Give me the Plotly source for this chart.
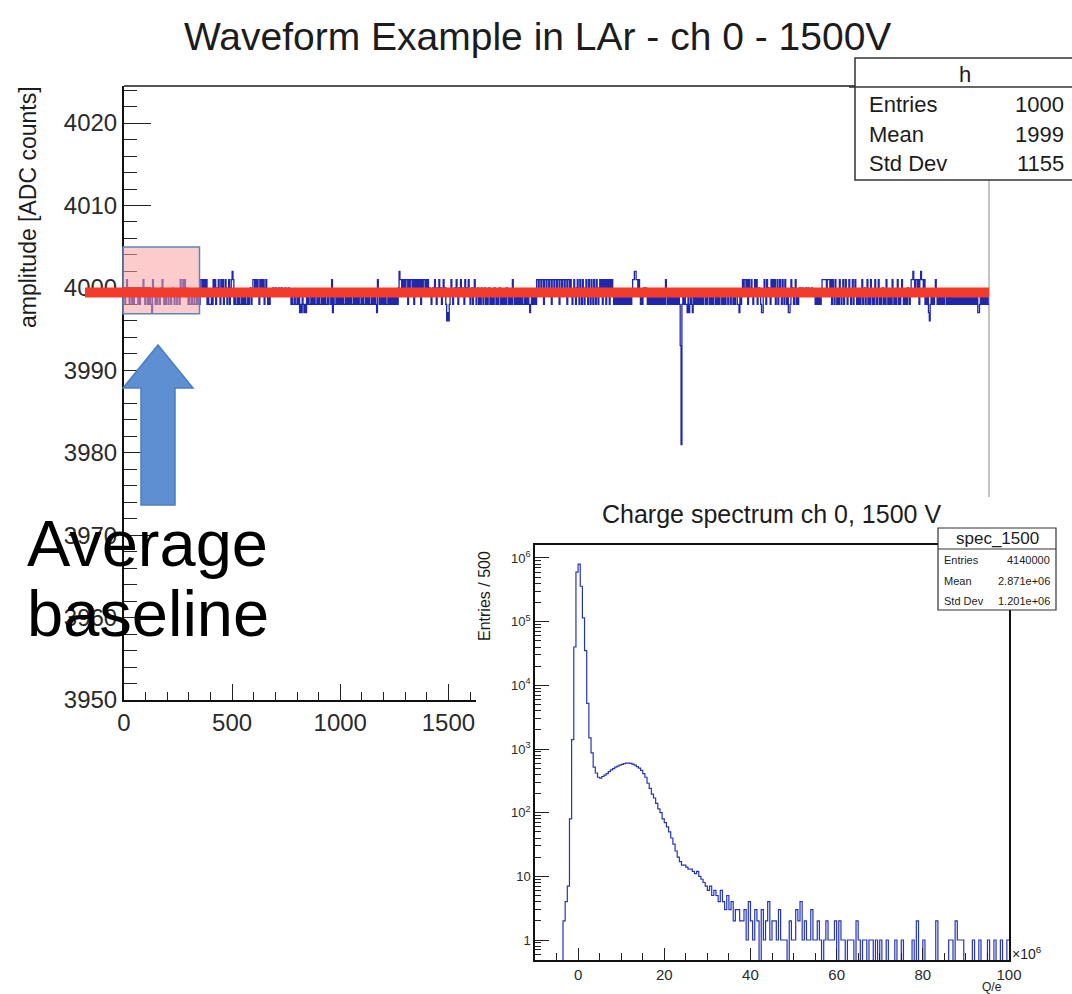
import numpy as np
import plotly.graph_objects as go

W, H = 1072, 994
FONT = "Liberation Sans, Arial, Helvetica, sans-serif"
INK = "#1c1c1c"


def fx(p):
    return p / W


def fy(p):
    return 1 - p / H


# ---------------- data ----------------
main_title = "Waveform Example in LAr - ch 0 - 1500V"
wave_sample_ns = 4
wave_adc = [
    # 0-200 ns
    3999,3998,3999,4001,4000,3999,3998,3999,3999,3998, 3999,3998,3999,3999,4000,3999,3998,3999,3998,3999,
    3999,4000,4001,3999,3998,3999,3999,3998,3999,3998, 3999,3998,3997,4001,4000,3999,3998,3999,3998,3999,
    3999,3998,4000,3999,4001,3999,3998,3999,3998,3999,
    # 200-400
    3999,3998,3999,3999,3998,3999,4000,3999,3998,3999, 3999,3998,3999,3999,3998,4001,3999,4000,4001,3999,
    4001,3999,4000,3999,3998,3999,3998,3998,3999,3998, 3998,3999,3998,3998,3999,3998,3999,3998,4001,4001,
    3999,4001,4000,4001,3999,4001,3998,3999,3998,3998,
    # 400-600
    3998,3999,3998,4001,3999,4001,3998,4000,3999,4001, 3999,3998,4001,3999,4001,3998,3999,4001,4000,3998,
    3999,4001,3998,4000,4001,4002,4001,3998,3999,3998, 3998,3999,3998,3999,3998,3998,3999,3998,3999,3998,
    3999,3998,3998,3999,3998,3999,4000,3998,3999,4001,
    # 600-800
    4001,3999,4001,4000,4001,3999,3998,4001,3999,4001, 3999,4001,3998,4000,4001,3999,3998,3999,3998,3999,
    3999,3999,4000,3999,3999,4000,3999,3999,3999,4000, 3999,3999,4000,3999,3999,3999,4000,3999,3999,3999,
    4000,3999,3999,3998,3999,3998,3998,3999,3998,3998,
    # 800-1000
    3999,3998,3999,3997,3998,3997,3999,3998,3997,3998, 3997,3999,3998,3999,3998,3998,3999,3998,3999,3998,
    3999,3998,3998,3999,3998,3999,3998,3998,3999,3998, 3999,3998,3999,3998,3998,3999,3998,3999,3999,3998,
    4001,3997,3999,3998,3998,3999,3998,3999,3998,3999,
    # 1000-1200
    3998,3999,3998,3999,3998,3998,3999,3998,3999,3998, 3999,3998,3999,3998,3998,3999,3998,3999,3998,3999,
    3998,3999,3998,3998,3999,3998,3999,3998,3998,3999, 3998,3999,3998,3999,3998,3998,3999,3998,3999,3998,
    3999,3998,3997,4001,3999,3998,3999,3998,3999,3998,
    # 1200-1400
    3999,3998,3999,3998,3998,3999,3998,3999,3998,3999, 3998,3999,3998,3999,3998,3999,3998,4000,4002,4001,
    4001,3999,4001,4000,4001,3999,4001,4001,3998,4001, 3999,4001,4001,3999,4001,3998,4001,3999,4001,4000,
    4001,3999,4001,3998,4001,3999,4001,4001,3999,4001,
    # 1400-1600
    3999,4001,3999,4000,3999,3998,3999,4000,3999,4001, 3999,3998,4000,3999,4001,3999,4000,3998,3999,4001,
    3999,4000,3998,3996,3997,3996,3998,3999,4001,3999, 3998,3999,4000,3999,4001,3999,3998,4000,3999,4001,
    3999,4000,3999,3998,4001,3999,4000,3999,4001,3999,
    # 1600-1800
    3998,3999,4000,3998,3999,4001,3999,3998,3999,4000, 3998,3999,3998,4000,3999,3998,3999,4000,3998,3999,
    3998,3999,4000,3998,3999,3998,3999,3998,4000,3999, 3998,3999,3998,3999,4000,3998,3999,3998,3999,3998,
    3999,3998,4000,3999,3998,3999,3998,3999,3998,4001,
    # 1800-2000
    3999,3998,3999,3998,3999,3998,3999,3998,3999,3998, 3999,3998,3998,3999,3998,3999,3998,3999,3998,3997,
    3998,3999,3998,3999,3998,3999,3998,4001,4001,3999, 4001,4001,3999,4001,4001,3998,4001,4001,3999,4001,
    4001,3999,4001,4001,3998,4001,4001,3999,4001,4001,
    # 2000-2200
    3999,4001,4001,3998,4001,4001,3999,4001,4001,3999, 4001,4001,3998,4001,4001,3999,4001,3999,3998,3999,
    4001,3999,3998,4000,4001,3999,3998,4001,3999,3998, 4001,3999,3998,4000,4001,3999,3998,4001,3999,3998,
    4001,3999,3998,4001,3999,3998,4001,3999,3998,4000,
    # 2200-2400
    4001,3999,4001,3998,4001,3999,4001,3998,4001,3999, 4001,3998,4001,3999,4001,3999,3998,3999,3998,3999,
    3998,3999,3998,3999,3998,3999,3998,3999,3998,3999, 3998,3999,3998,3999,3998,3999,3998,3999,4001,4001,
    4002,4002,4001,4001,3999,4001,3999,3998,3999,3998,
    # 2400-2600
    3999,4000,3999,4000,3999,3998,3999,3998,3999,3998, 3999,3998,3999,3998,3999,3998,3999,3998,3999,3998,
    3999,3998,3999,3998,3999,3998,4001,3999,3998,3999, 3998,3999,3998,3999,3998,3999,3998,3999,3998,3999,
    3998,3999,3998,3993,3981,3998,3999,3998,3999,3998,
    # 2600-2800
    3998,3997,3999,3997,3998,3999,3998,3997,3999,3998, 3999,3998,3999,3998,3999,3998,3999,3998,3999,3998,
    3999,3999,3998,3999,3998,3999,3999,3998,3999,3998, 3999,3998,3999,3999,3998,3999,3998,3999,3998,3999,
    3999,3998,3999,3998,3999,3998,3999,3999,3998,3999,
    # 2800-3000
    3999,3998,3999,3999,3998,3999,3998,3999,3999,3998, 3998,3997,3999,3998,3999,4001,3999,4001,4001,3999,
    4001,3998,4001,3999,4000,4001,3999,3998,3999,4001, 3999,4001,3998,3999,4000,3999,3998,3997,3997,3999,
    4001,3999,3998,4001,3999,4000,3999,3998,4001,3999,
    # 3000-3200
    4001,3999,4001,3998,3999,4001,3998,4000,4001,3999, 3998,4001,3999,3998,4001,3999,3998,3999,3997,3997,
    3998,4001,3999,4000,3998,3999,4001,3998,3999,3998, 3999,4000,3999,3999,4000,3999,3999,3999,4000,3999,
    3999,4000,3999,3999,3999,4000,3999,3999,3999,3998,
    # 3200-3400
    3999,3998,3999,3998,3999,3998,3999,4001,4001,4001, 4001,4001,3999,4001,4001,4001,3999,4001,3998,4001,
    3999,3998,4001,3999,3998,3999,3998,4001,3999,3998, 3999,4001,3998,3999,4001,3999,3998,3999,4001,3999,
    3998,3999,4001,3998,3999,4001,3999,3998,3999,3998,
    # 3400-3600
    3999,3998,3999,4001,3998,3999,4000,3998,3999,4001, 3998,3999,3998,4001,3999,3998,3999,3998,4001,3999,
    3998,3999,4001,3998,3999,3998,3999,4000,3998,3999, 3998,4001,3999,3998,3999,3998,3999,3998,4001,3999,
    3998,3999,3998,3999,4001,3998,3999,3998,3999,4001,
    # 3600-3800
    3999,3998,3999,3998,3999,3998,4000,3999,3998,3999, 4001,4001,4002,4001,3999,4001,4001,3999,4001,3998,
    4001,4002,4001,4001,3999,4001,3998,3999,3998,3999, 3997,3996,3998,3999,3998,3999,3998,3999,4001,3999,
    3998,3999,3998,3999,3998,3999,3998,3999,3998,3999,
    # 3800-4000
    3999,3998,3999,3998,3999,3998,3999,3998,3999,3998, 3999,3998,3999,3998,3999,3998,3999,3998,3999,3998,
    3999,3998,3999,3998,3999,3998,3999,3998,3999,3998, 3999,3998,3999,3998,3999,3998,3999,3997,3997,3998,
    3999,3998,3999,3998,3999,3998,3999,3998,3999,3998,
]
wave_stats_labels = ["Entries", "Mean", "Std Dev"]
wave_stats_values = ["1000", "1999", "1155"]
wave_y_ticks = [3950, 3960, 3970, 3980, 3990, 4000, 4010, 4020]
average_baseline_adc = 3999.45

spec_title = "Charge spectrum ch 0, 1500 V"
spec_first_edge = -10.0
spec_bin_width = 0.5
spec_counts = [
    # -10 .. -4
    0, 0, 0, 0, 0, 0, 0, 0, 0, 0, 0, 0,
    # -4 .. 1
    0, 2, 4, 7, 80, 1400, 40000, 600000, 800000, 360000,
    # 1 .. 6
    115000, 35000, 5200, 1500, 870, 520, 420, 360, 350, 370,
    # 6 .. 11
    390, 410, 440, 470, 490, 520, 540, 560, 575, 590,
    # 11 .. 16
    600, 600, 595, 580, 560, 530, 500, 460, 410, 360,
    # 16 .. 21
    290, 240, 195, 170, 140, 115, 100, 80, 70, 60,
    # 21 .. 26
    50, 40, 32, 25, 20, 17, 15, 15, 14, 13,
    # 26 .. 31
    13, 12, 11, 12, 10, 9, 8, 7, 6, 7,
    # 31 .. 36
    5, 6, 5, 4, 6, 4, 3, 5, 3, 4,
    # 36 .. 38
    2, 3, 3, 2,
    # 38 .. 100
    2, 3, 1, 4, 2, 1, 3, 2, 0, 3,
    1, 2, 4, 1, 2, 2, 1, 3, 1, 1,
    1, 0, 2, 1, 1, 3, 2, 4, 1, 2,
    1, 1, 3, 1, 1, 2, 1, 0, 1, 2,
    1, 1, 1, 2, 0, 2, 1, 1, 0, 1,
    1, 1, 0, 2, 1, 0, 1, 1, 0, 1,
    1, 0, 1, 0, 1, 0, 0, 1, 0, 0,
    0, 1, 0, 0, 1, 0, 0, 0, 0, 1,
    0, 2, 0, 0, 1, 0, 0, 0, 0, 0,
    2, 0, 0, 0, 0, 0, 1, 1, 0, 2,
    1, 1, 1, 0, 0, 0, 0, 1, 0, 0,
    1, 0, 0, 0, 1, 0, 0, 1, 0, 0,
    1, 0, 0, 1,
]
spec_x_ticks = [0, 20, 40, 60, 80, 100]
spec_y_ticks = [1, 10, 100, 1000, 10000, 100000, 1000000]
spec_y_ticktext = ["1", "10", "10<sup>2</sup>", "10<sup>3</sup>", "10<sup>4</sup>",
                   "10<sup>5</sup>", "10<sup>6</sup>"]
spec_stats_labels = ["Entries", "Mean", "Std Dev"]
spec_stats_values = ["4140000", "2.871e+06", "1.201e+06"]

# ---------------- figure ----------------
fig = go.Figure()

wave_edges = np.arange(len(wave_adc) + 1) * wave_sample_ns
wave_step = list(wave_adc) + [wave_adc[-1]]
fig.add_trace(go.Scatter(
    x=wave_edges, y=wave_step, mode="lines",
    line=dict(shape="hv", color="#1f28ad", width=1.3),
    xaxis="x", yaxis="y", hoverinfo="skip"))

# white panel on which the inset sits (covers the main frame underneath)
fig.add_trace(go.Scatter(
    x=[0, 1, 1, 0, 0], y=[0, 0, 1, 1, 0], mode="lines", fill="toself",
    fillcolor="white", line=dict(width=0, color="white"),
    xaxis="x2", yaxis="y2", hoverinfo="skip"))

spec_edges = spec_first_edge + spec_bin_width * np.arange(len(spec_counts) + 1)
spec_disp = [c if c > 0 else 0.05 for c in spec_counts]
spec_disp = spec_disp + [spec_disp[-1]]
fig.add_trace(go.Scatter(
    x=spec_edges, y=spec_disp, mode="lines",
    line=dict(shape="hv", color="#2535ba", width=1.2),
    xaxis="x3", yaxis="y3", hoverinfo="skip"))

axis_common = dict(showgrid=False, zeroline=False, showline=True, automargin=False,
                   linecolor="#111", ticks="inside", tickcolor="#222")

spec_minor = [m * 10 ** e for e in range(-1, 7) for m in range(2, 10)]

fig.update_layout(
    width=W, height=H, margin=dict(l=0, r=0, t=0, b=0, pad=0), autosize=False,
    paper_bgcolor="white", plot_bgcolor="rgba(0,0,0,0)",
    showlegend=False, hovermode=False,
    font=dict(family=FONT, color=INK),
    xaxis=dict(domain=[fx(124), fx(989)], range=[0, 4000], anchor="y",
               tick0=0, dtick=500, ticklen=16, tickwidth=1.4, linewidth=2,
               tickfont=dict(size=24, color="#2a2a2a"),
               minor=dict(ticks="inside", dtick=100, ticklen=8, tickcolor="#222", showgrid=False),
               **axis_common),
    yaxis=dict(domain=[fy(700), fy(86)], range=[3950, 4024.5], anchor="x",
               tickvals=wave_y_ticks, tickformat="d", ticklen=27, tickwidth=1.4, linewidth=2,
               tickfont=dict(size=24, color="#2a2a2a"),
               minor=dict(ticks="inside", dtick=2, ticklen=13, tickcolor="#222", showgrid=False),
               **axis_common),
    xaxis2=dict(domain=[fx(476), 1], range=[0, 1], anchor="y2", visible=False,
                fixedrange=True, automargin=False),
    yaxis2=dict(domain=[0, fy(497)], range=[0, 1], anchor="x2", visible=False,
                fixedrange=True, automargin=False),
    xaxis3=dict(domain=[fx(535), fx(1009)], range=[-10, 100], anchor="y3",
                tickvals=spec_x_ticks, ticklen=12, tickwidth=1.2, linewidth=1.5, mirror=True,
                tickfont=dict(size=15, color="#2a2a2a"),
                minor=dict(ticks="inside", dtick=5, ticklen=7, tickcolor="#222", showgrid=False),
                **axis_common),
    yaxis3=dict(domain=[fy(960), fy(545)], type="log", range=[-0.314, 6.204], anchor="x3",
                tickvals=spec_y_ticks, ticktext=spec_y_ticktext, ticklen=14, tickwidth=1.2,
                linewidth=1.5, mirror=True,
                tickfont=dict(size=13, color="#2a2a2a"),
                minor=dict(ticks="inside", tickvals=spec_minor, ticklen=6, tickcolor="#222",
                           showgrid=False),
                **axis_common),
)

shapes = []
# main frame top / right (drawn under everything so the inset panel hides them)
shapes.append(dict(type="line", xref="paper", yref="paper", x0=fx(124), x1=fx(989),
                   y0=fy(86), y1=fy(86), line=dict(color="#555", width=2), layer="below"))
shapes.append(dict(type="line", xref="paper", yref="paper", x0=fx(989), x1=fx(989),
                   y0=fy(86), y1=fy(700), line=dict(color="#b0b0b0", width=1.5), layer="below"))
# highlighted baseline window
shapes.append(dict(type="rect", xref="paper", yref="y", x0=fx(123), x1=fx(199.5),
                   y0=3996.86, y1=4004.96, fillcolor="rgba(250,160,160,0.55)",
                   line=dict(color="#5a86c0", width=1.5), layer="above"))
# average baseline line
shapes.append(dict(type="line", xref="paper", yref="y", x0=fx(85), x1=fx(989),
                   y0=average_baseline_adc, y1=average_baseline_adc,
                   line=dict(color="#f23b2b", width=10), layer="above"))
# arrow
arrow_pts = [(158, 345), (193, 388), (175, 388), (175, 505), (141, 505), (141, 388), (123, 388)]
arrow_path = "M " + " L ".join(f"{fx(a):.5f},{fy(b):.5f}" for a, b in arrow_pts) + " Z"
shapes.append(dict(type="path", xref="paper", yref="paper", path=arrow_path,
                   fillcolor="#5f8fd3", line=dict(color="#4d7dc0", width=1.5), layer="above"))
# main stats box (runs off the right edge like the reference)
shapes.append(dict(type="rect", xref="paper", yref="paper", x0=fx(855), x1=fx(1085),
                   y0=fy(58), y1=fy(180), fillcolor="white",
                   line=dict(color="#333", width=1.5), layer="above"))
shapes.append(dict(type="line", xref="paper", yref="paper", x0=fx(849), x1=fx(1085),
                   y0=fy(87), y1=fy(87), line=dict(color="#333", width=1.5), layer="above"))
# inset stats box
shapes.append(dict(type="rect", xref="paper", yref="paper", x0=fx(938), x1=fx(1056),
                   y0=fy(528), y1=fy(610), fillcolor="white",
                   line=dict(color="#333", width=1.2), layer="above"))
shapes.append(dict(type="line", xref="paper", yref="paper", x0=fx(938), x1=fx(1056),
                   y0=fy(549), y1=fy(549), line=dict(color="#333", width=1.0), layer="above"))
fig.update_layout(shapes=shapes)

ann = []


def text(x, y, s, size, xanchor="center", yanchor="middle", angle=0, color=INK):
    ann.append(dict(x=fx(x), y=fy(y), xref="paper", yref="paper", text=s, showarrow=False,
                    xanchor=xanchor, yanchor=yanchor, textangle=angle,
                    font=dict(family=FONT, size=size, color=color)))


text(537, 36, main_title, 39)
text(28, 84, "amplitude [ADC counts]", 23, yanchor="top", angle=-90)
text(965, 74, "h", 22)
for i, (lab, val) in enumerate(zip(wave_stats_labels, wave_stats_values)):
    yy = [105, 135, 164][i]
    text(867, yy, lab, 22, xanchor="left")
    text(1066, yy, val, 22, xanchor="right")

text(25, 543, "Average", 65, xanchor="left", color="black")
text(25, 613, "baseline", 65, xanchor="left", color="black")

text(771, 514, spec_title, 25)
text(484, 549, "Entries / 500", 16, yanchor="top", angle=-90)
text(992, 987, "Q/e", 12)
text(1010, 953, "\u00d710<sup>6</sup>", 14, xanchor="left")
text(997, 538, "spec_1500", 17)
for i, (lab, val) in enumerate(zip(spec_stats_labels, spec_stats_values)):
    yy = [560, 581, 601][i]
    text(942, yy, lab, 11, xanchor="left")
    text(1052, yy, val, 11, xanchor="right")

fig.update_layout(annotations=ann)

# the page is exactly the figure size: drop the browser's default body margin
fig.write_html("out.html", config={"displayModeBar": False},
               post_script="document.body.style.margin='0';document.body.style.overflow='hidden';")
